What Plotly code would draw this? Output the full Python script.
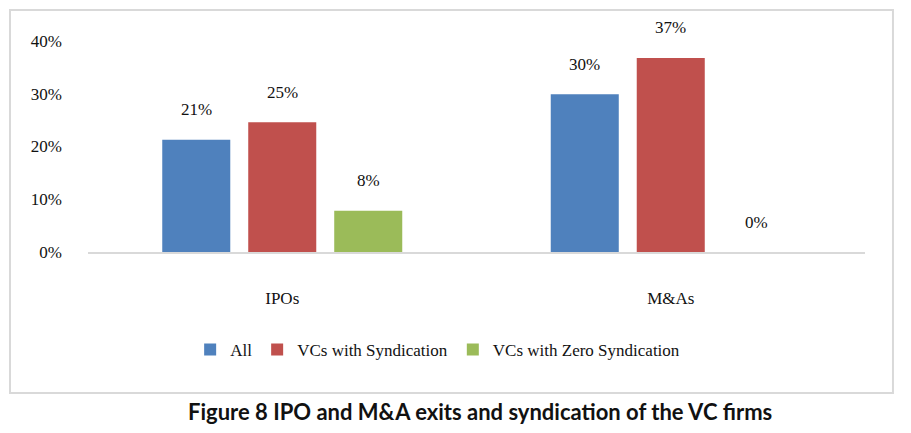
import plotly.graph_objects as go

categories = ["IPOs", "M&As"]
series_names = ["All", "VCs with Syndication", "VCs with Zero Syndication"]
all_vals = [0.213, 0.299]
synd_vals = [0.246, 0.368]
zero_vals = [0.078, 0.0]
colors = ["#4F81BD", "#C0504D", "#9BBB59"]

series = [all_vals, synd_vals, zero_vals]

serif = '"Liberation Serif", "Times New Roman", Times, serif'
BARGAP = 0.336

fig = go.Figure()
for name, vals, col in zip(series_names, series, colors):
    fig.add_trace(go.Bar(x=categories, y=vals, name=name, marker_color=col,
                         marker_line_width=0))

# data labels above bars
slot = (1 - BARGAP) / len(series)
for j, vals in enumerate(series):
    for i, v in enumerate(vals):
        fig.add_annotation(x=i + (j - 1) * slot, y=v, text=f"{round(v*100):.0f}%",
                           showarrow=False, yshift=30, xref="x", yref="y",
                           font=dict(family=serif, size=17, color="#111"))

fig.add_shape(type="rect", xref="paper", yref="paper",
              x0=-0.1004, x1=1.036, y0=-0.668, y1=1.147,
              line=dict(color="#d9d9d9", width=2), fillcolor="rgba(0,0,0,0)")

fig.add_annotation(xref="paper", yref="paper", x=0.504, y=-0.758,
                   text="<b>Figure 8 IPO and M&A exits and syndication of the VC firms</b>",
                   showarrow=False, xanchor="center", yanchor="middle",
                   font=dict(family="Lato, Carlito, sans-serif", size=22, color="#111"))

fig.update_layout(
    width=911, height=433,
    margin=dict(l=88, r=46, t=41, b=181, autoexpand=False),
    paper_bgcolor="white", plot_bgcolor="white",
    barmode="group", bargap=BARGAP, bargroupgap=0.209,
    font=dict(family=serif, size=17, color="#111"),
    showlegend=True,
    legend=dict(orientation="h", x=0.45, y=-0.464, xanchor="center", yanchor="middle",
                font=dict(family=serif, size=17, color="#111"),
                itemwidth=30, traceorder="normal"),
    xaxis=dict(showline=True, linecolor="#d9d9d9", linewidth=2, ticks="",
               showgrid=False, ticklabelstandoff=30, automargin=False,
               tickfont=dict(family=serif, size=17)),
    yaxis=dict(range=[0, 0.4], dtick=0.1, tickformat=".0%", showgrid=False,
               zeroline=False, showline=False, ticklabelstandoff=25, automargin=False,
               tickfont=dict(family=serif, size=17)),
)

fig.write_html("out.html", config={"displayModeBar": False},
               post_script="document.body.style.margin='0';document.body.style.overflow='hidden';")
